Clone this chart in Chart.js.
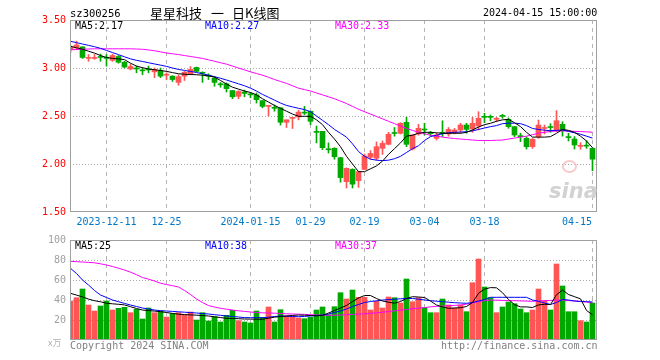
<!DOCTYPE html>
<html>
<head>
<meta charset="utf-8">
<script src="https://cdn.jsdelivr.net/npm/chart.js@4.4.0/dist/chart.umd.min.js"></script>
<style>
html,body{margin:0;padding:0;background:#fff;}
#wrap{position:relative;width:660px;height:360px;overflow:hidden;background:#fff;}
canvas{position:absolute;left:0;top:0;}
.t{position:absolute;font-family:"DejaVu Sans Mono",monospace;font-size:10px;line-height:10px;white-space:pre;}
.cj{font-family:'Noto Sans CJK SC';font-size:13px;line-height:15px;color:#000;top:5px;}
</style>
</head>
<body>
<div id="wrap">
<canvas id="vol" width="660" height="360"></canvas>
<canvas id="price" width="660" height="360"></canvas>
<span class="t" style="left:70px;top:8px;color:#000;font-size:10.5px">sz300256</span>
<span class="t cj" style="left:150px">星星科技</span>
<span class="t cj" style="left:211px">一</span>
<span class="t cj" style="left:232px">日K线图</span>
<span class="t" style="left:483px;top:8px;color:#000">2024-04-15 15:00:00</span>
<span class="t" id="pma5" style="left:75px;top:21px;color:#000"></span>
<span class="t" id="pma10" style="left:205px;top:21px;color:#0000ff"></span>
<span class="t" id="pma30" style="left:335px;top:21px;color:#ff00ff"></span>
<span class="t" id="vma5l" style="left:75px;top:241px;color:#000"></span>
<span class="t" id="vma10l" style="left:205px;top:241px;color:#0000ff"></span>
<span class="t" id="vma30l" style="left:335px;top:241px;color:#ff00ff"></span>
<span class="t" style="left:48px;top:338px;color:#b0b0b0;font-size:9px;font-family:'Noto Sans CJK SC'">x万</span>
<span class="t" style="left:70px;top:341px;color:#808080">Copyright 2024 SINA.COM</span>
<span class="t" style="left:441px;top:341px;color:#808080">http://finance.sina.com.cn</span>
<span class="t" style="left:562px;top:160px;width:11px;height:9px;border:2px solid #f6caca;border-radius:50%"></span>
<span class="t" style="left:549px;top:180px;color:#d2d2d2;font-family:'DejaVu Sans';font-weight:bold;font-style:italic;font-size:21px;line-height:22px">sina</span>
</div>
<script>
const dates = [
'2023-12-01','2023-12-04','2023-12-05','2023-12-06','2023-12-07','2023-12-08',
'2023-12-11','2023-12-12','2023-12-13','2023-12-14','2023-12-15',
'2023-12-18','2023-12-19','2023-12-20','2023-12-21','2023-12-22',
'2023-12-25','2023-12-26','2023-12-27','2023-12-28','2023-12-29',
'2024-01-02','2024-01-03','2024-01-04','2024-01-05',
'2024-01-08','2024-01-09','2024-01-10','2024-01-11','2024-01-12',
'2024-01-15','2024-01-16','2024-01-17','2024-01-18','2024-01-19',
'2024-01-22','2024-01-23','2024-01-24','2024-01-25','2024-01-26',
'2024-01-29','2024-01-30','2024-01-31','2024-02-01','2024-02-02',
'2024-02-05','2024-02-06','2024-02-07','2024-02-08',
'2024-02-19','2024-02-20','2024-02-21','2024-02-22','2024-02-23',
'2024-02-26','2024-02-27','2024-02-28','2024-02-29','2024-03-01',
'2024-03-04','2024-03-05','2024-03-06','2024-03-07','2024-03-08',
'2024-03-11','2024-03-12','2024-03-13','2024-03-14','2024-03-15',
'2024-03-18','2024-03-19','2024-03-20','2024-03-21','2024-03-22',
'2024-03-25','2024-03-26','2024-03-27','2024-03-28','2024-03-29',
'2024-04-01','2024-04-02','2024-04-03',
'2024-04-08','2024-04-09','2024-04-10','2024-04-11','2024-04-12',
'2024-04-15'];

const tickDates  = ['2023-12-11','2023-12-25','2024-01-15','2024-01-29','2024-02-19','2024-03-04','2024-03-18','2024-04-15'];
const tickLabels = ['2023-12-11','12-25','2024-01-15','01-29','02-19','03-04','03-18','04-15'];
const priceTicks = [1.5, 2.0, 2.5, 3.0, 3.5];
const volTicks = [20, 40, 60, 80, 100];

const open = [3.19,3.21,3.22,3.10,3.10,3.115,3.11,3.08,3.12,3.06,
2.99,3.00,2.975,2.985,2.96,2.97,2.925,2.915,2.85,2.915,
2.94,3.005,2.955,2.92,2.895,2.83,2.835,2.765,2.705,2.75,
2.725,2.72,2.66,2.60,2.59,2.585,2.435,2.475,2.49,2.535,
2.55,2.335,2.34,2.15,2.163,2.066,1.816,1.944,1.826,1.944,
2.07,2.06,2.163,2.205,2.32,2.32,2.434,2.156,2.313,2.36,
2.323,2.267,2.323,2.313,2.326,2.354,2.406,2.365,2.396,2.49,
2.49,2.465,2.50,2.465,2.389,2.288,2.267,2.18,2.285,2.37,
2.39,2.354,2.413,2.28,2.26,2.184,2.19,2.163];
const close = [3.22,3.24,3.11,3.11,3.105,3.11,3.10,3.13,3.06,3.01,
3.015,2.99,2.97,2.98,2.985,2.915,2.935,2.88,2.91,2.955,
2.985,2.965,2.945,2.915,2.85,2.825,2.785,2.70,2.755,2.735,
2.72,2.67,2.60,2.605,2.58,2.435,2.46,2.48,2.54,2.53,
2.445,2.33,2.17,2.148,2.076,1.858,1.955,1.79,1.92,2.083,
2.11,2.18,2.215,2.31,2.318,2.424,2.205,2.302,2.372,2.354,
2.316,2.302,2.32,2.36,2.354,2.406,2.36,2.424,2.476,2.486,
2.486,2.472,2.496,2.389,2.302,2.285,2.18,2.257,2.406,2.375,
2.38,2.451,2.354,2.275,2.198,2.19,2.186,2.05];
const high = [3.24,3.28,3.22,3.14,3.14,3.145,3.14,3.145,3.13,3.07,
3.04,3.02,3.00,3.02,3.00,3.00,2.95,2.92,2.93,2.965,
3.015,3.01,2.96,2.94,2.91,2.85,2.845,2.765,2.765,2.77,
2.745,2.74,2.66,2.605,2.615,2.585,2.46,2.48,2.56,2.60,
2.55,2.395,2.34,2.22,2.17,2.07,1.96,1.95,1.925,2.104,
2.14,2.23,2.24,2.33,2.38,2.43,2.486,2.302,2.413,2.424,
2.34,2.32,2.45,2.38,2.37,2.424,2.424,2.486,2.545,2.528,
2.51,2.486,2.517,2.48,2.39,2.32,2.285,2.267,2.458,2.406,
2.42,2.556,2.44,2.32,2.285,2.222,2.243,2.17];
const low = [3.16,3.19,3.10,3.07,3.09,3.07,3.02,3.07,3.05,3.00,
2.98,2.95,2.93,2.95,2.90,2.90,2.88,2.86,2.82,2.87,
2.93,2.96,2.85,2.88,2.81,2.80,2.75,2.68,2.68,2.70,
2.69,2.635,2.585,2.50,2.55,2.405,2.38,2.37,2.46,2.515,
2.41,2.22,2.15,2.115,2.05,1.81,1.75,1.75,1.757,1.94,
2.05,2.04,2.10,2.20,2.29,2.313,2.18,2.146,2.30,2.302,
2.29,2.25,2.285,2.29,2.313,2.326,2.32,2.33,2.354,2.43,
2.45,2.44,2.476,2.372,2.285,2.233,2.156,2.163,2.267,2.313,
2.33,2.337,2.29,2.24,2.156,2.153,2.163,1.93];

const ma5 = [3.226,3.21,3.195,3.175,3.155,3.13,3.11,3.10,3.095,3.087,
3.05,3.02,3.003,2.99,2.982,2.974,2.965,2.952,2.94,2.935,
2.932,2.93,2.925,2.918,2.905,2.87,2.833,2.80,2.78,2.76,
2.745,2.72,2.68,2.645,2.61,2.58,2.55,2.52,2.497,2.497,
2.497,2.46,2.41,2.33,2.26,2.18,2.08,2.00,1.92,1.92,
1.95,1.98,2.03,2.10,2.16,2.22,2.29,2.30,2.32,2.33,
2.33,2.325,2.32,2.32,2.32,2.32,2.33,2.355,2.385,2.41,
2.424,2.445,2.46,2.465,2.43,2.39,2.33,2.28,2.28,2.28,
2.285,2.32,2.36,2.35,2.33,2.29,2.24,2.17];
const ma10 = [3.278,3.264,3.25,3.236,3.222,3.205,3.183,3.161,3.139,3.117,
3.095,3.08,3.068,3.055,3.042,3.03,3.017,3.0,2.985,2.975,
2.964,2.953,2.94,2.925,2.91,2.893,2.875,2.855,2.835,2.815,
2.79,2.76,2.725,2.695,2.665,2.635,2.61,2.595,2.58,2.567,
2.545,2.50,2.455,2.41,2.36,2.32,2.28,2.21,2.13,2.08,
2.05,2.04,2.035,2.04,2.055,2.08,2.12,2.16,2.19,2.245,
2.285,2.30,2.315,2.325,2.33,2.333,2.336,2.345,2.36,2.375,
2.389,2.40,2.42,2.425,2.425,2.42,2.40,2.37,2.36,2.352,
2.347,2.35,2.354,2.34,2.325,2.31,2.29,2.27];
const ma30 = [3.19,3.192,3.195,3.198,3.20,3.20,3.20,3.20,3.20,3.20,
3.20,3.198,3.195,3.188,3.18,3.168,3.156,3.148,3.14,3.13,
3.12,3.11,3.10,3.085,3.07,3.055,3.04,3.02,3.00,2.98,
2.96,2.943,2.925,2.903,2.88,2.86,2.84,2.815,2.79,2.775,
2.76,2.74,2.72,2.70,2.68,2.655,2.63,2.60,2.57,2.545,
2.52,2.495,2.47,2.445,2.42,2.395,2.37,2.35,2.33,2.315,
2.30,2.29,2.28,2.272,2.265,2.26,2.255,2.25,2.245,2.245,
2.245,2.247,2.25,2.26,2.27,2.28,2.29,2.305,2.32,2.33,
2.34,2.343,2.345,2.343,2.34,2.338,2.335,2.33];

const volume = [39,42.3,51,35,29,34,39,30,31.7,32.7,
27.3,30.7,21,32,27.3,29,23,26.3,27.3,25.3,
28,20,27.3,19,23.3,18,24.7,29.7,19.3,18,
17,29,22.7,33,18,30.3,24,24,22,21.3,
22.7,30,33,25.3,33.3,47.3,41,50,42.7,42.7,
30,38.7,32,43,42.3,37,61,38.3,42.3,32.3,
27.3,27.3,41,35,32,35,28.3,57.3,81,53,
42.3,27.3,33,38,36.3,31,27.3,30,51,39,
30,76,54,28.3,28.3,19.3,18,37];
const vma5 = [46.7,44.9,43.1,40.9,39.3,38.2,36.8,36.2,35.7,35.1,
33.3,31.5,30.0,29.4,28.9,28.3,27.5,26.6,25.8,25.4,
25.1,24.8,24.5,24.0,23.2,22.4,21.7,21.5,21.3,21.0,
20.9,20.8,20.7,21.8,22.8,23.5,24.0,24.6,25.0,24.8,
24.5,24.2,24.5,27.0,29.5,32.0,34.5,38.5,42.0,44.5,
44.5,41.5,39.0,37.8,36.8,38.5,41.5,43.3,43.0,42.5,
39.0,35.0,33.0,31.7,32.0,32.3,33.5,37.5,46.7,50.9,
52.4,52.2,47.3,40.5,35.4,33.1,33.1,32.5,35.1,35.7,
35.5,45.2,50.0,45.5,43.3,41.2,29.6,25.2];
const vma10 = [71.7,66.5,60,55,49.5,45,42.5,40,38.3,36.6,
35,33.5,32,31,30,29.3,29,28.6,28.2,27.8,
27.4,27,26.5,26,25.3,24.7,24,23.5,23,22.4,
22.3,22.3,22.3,22.8,23.5,24,23.8,23.5,23.3,23.6,
24,24.5,25,26,27.5,29,31,33.5,35.5,37.5,
38.5,39.2,40,40.4,40.8,41.2,41.6,41.5,40.8,40,
39.3,38.8,38.3,37.8,37.3,37,36.7,37.5,39,40.5,
42.7,42.7,42.7,42.7,42.7,42.7,42.7,40,38.7,37,
35.5,37.5,40.5,40,39,38.5,38.3,38];
const vma30 = [78.7,78.3,78,77.6,77.2,76.2,75,73.5,71.8,70,
67.8,65.3,62.5,60.8,59,56.8,55.5,54.3,53,49.5,
45.5,41,37.5,34.5,33,31.7,30.8,30,29.2,28.6,
28,27.5,27.2,27,26.8,26.5,26.2,26,25.8,25.6,
25.3,25,24.8,24.7,24.8,25,25.3,25.6,25.9,26.2,
26.7,27.2,27.8,28.4,29.2,29.8,30.5,31.2,31.8,32.4,
33.2,33.6,34,34.3,34.6,35,35.8,37,38.3,39.3,
40,39.8,39.6,39.4,39.3,39.1,38.9,38.7,39,39.3,
39.6,39.8,40,39.5,39,38.5,38,37.2];

const UP = '#ff5555', DOWN = '#00a800';
const N = dates.length;
const last = N - 1;
const tickIdx = tickDates.map(d => dates.indexOf(d));
const candleColors = open.map((o, i) => close[i] >= o ? UP : DOWN);

document.getElementById('pma5').textContent = 'MA5:' + ma5[last].toFixed(2);
document.getElementById('pma10').textContent = 'MA10:' + ma10[last].toFixed(2);
document.getElementById('pma30').textContent = 'MA30:' + ma30[last].toFixed(2);
document.getElementById('vma5l').textContent = 'MA5:' + Math.round(vma5[last]);
document.getElementById('vma10l').textContent = 'MA10:' + Math.round(vma10[last]);
document.getElementById('vma30l').textContent = 'MA30:' + Math.round(vma30[last]);

Chart.defaults.font.family = '"DejaVu Sans Mono", monospace';
Chart.defaults.font.size = 10;

const PX_PER = 6;           // one trading day per 6 px
const X_MIN = -0.5 / PX_PER;
const X_MAX = X_MIN + 527 / PX_PER;

const framePlugin = {
  id: 'frame',
  afterDraw(c) {
    const {ctx, chartArea: a} = c;
    ctx.save();
    ctx.strokeStyle = '#a0a0a0';
    ctx.lineWidth = 1;
    ctx.strokeRect(a.left + 0.5, a.top + 0.5, a.right - a.left - 1, a.bottom - a.top - 1);
    ctx.restore();
  }
};
const xLabelPlugin = {
  id: 'xlabels',
  afterDraw(c) {
    const s = c.scales.x, ctx = c.ctx, a = c.chartArea;
    ctx.save();
    ctx.font = '10px "DejaVu Sans Mono"';
    ctx.fillStyle = '#0078c8';
    ctx.textBaseline = 'middle';
    tickIdx.forEach((v, k) => {
      const t = tickLabels[k];
      const w = ctx.measureText(t).width;
      let x = s.getPixelForValue(v) - w / 2;
      if (x + w > a.right - 5) x = a.right - 5 - w;
      ctx.fillText(t, x, a.bottom + 10);
    });
    ctx.restore();
  }
};

function xScale() {
  return {
    type: 'linear', min: X_MIN, max: X_MAX, offset: false,
    afterFit: s => { s.height = 0; },
    afterBuildTicks: s => { s.ticks = tickIdx.map(v => ({value: v})); },
    ticks: {display: false},
    grid: {color: '#b4b4b4', lineWidth: 1, drawTicks: false, offset: false},
    border: {display: false, dash: [4, 4]}
  };
}
function line(label, arr, color) {
  return {type: 'line', label, data: arr.map((v, i) => ({x: i, y: v})),
    borderColor: color, borderWidth: 1, pointRadius: 0, tension: 0, order: 0, fill: false};
}

new Chart(document.getElementById('price'), {
  type: 'bar',
  data: {
    datasets: [
      line('MA5', ma5, '#000000'),
      line('MA10', ma10, '#0000ff'),
      line('MA30', ma30, '#ff00ff'),
      {type: 'bar', label: 'body', data: open.map((o, i) => ({x: i, y: [o, close[i]]})),
        backgroundColor: candleColors, borderWidth: 0, barThickness: 5, grouped: false, minBarLength: 1, order: 1},
      {type: 'bar', label: 'wick', data: low.map((l, i) => ({x: i, y: [l, high[i]]})),
        backgroundColor: candleColors, borderWidth: 0, barThickness: 1, grouped: false, order: 2}
    ]
  },
  options: {
    responsive: false, animation: false, events: [],
    layout: {padding: {left: 0, right: 63, top: 20, bottom: 148}},
    plugins: {legend: {display: false}, tooltip: {enabled: false}},
    scales: {
      x: xScale(),
      y: {
        min: 1.5, max: 3.5,
        afterFit: s => { s.width = 70; },
        afterBuildTicks: s => { s.ticks = priceTicks.map(v => ({value: v})); },
        ticks: {color: '#ff0000', padding: 4, callback: v => Number(v).toFixed(2)},
        grid: {drawTicks: false, color: c => (c.tick && (c.tick.value === 1.5 || c.tick.value === 3.5)) ? 'rgba(0,0,0,0)' : '#a8a8a8'},
        border: {display: false, dash: [1, 2]}
      }
    }
  },
  plugins: [framePlugin, xLabelPlugin]
});

const volColors = candleColors;
new Chart(document.getElementById('vol'), {
  type: 'bar',
  data: {
    datasets: [
      line('MA5', vma5, '#000000'),
      line('MA10', vma10, '#0000ff'),
      line('MA30', vma30, '#ff00ff'),
      {type: 'bar', label: 'vol', data: volume.map((v, i) => ({x: i, y: v})),
        backgroundColor: volColors, borderWidth: 0, barThickness: 5, grouped: false, order: 1}
    ]
  },
  options: {
    responsive: false, animation: false, events: [],
    layout: {padding: {left: 0, right: 63, top: 240, bottom: 20}},
    plugins: {legend: {display: false}, tooltip: {enabled: false}},
    scales: {
      x: xScale(),
      y: {
        min: 0, max: 100,
        afterFit: s => { s.width = 70; },
        afterBuildTicks: s => { s.ticks = volTicks.map(v => ({value: v})); },
        ticks: {color: '#a0a0a0', padding: 4},
        grid: {drawTicks: false, color: c => (c.tick && c.tick.value === 100) ? 'rgba(0,0,0,0)' : '#a8a8a8'},
        border: {display: false, dash: [1, 2]}
      }
    }
  },
  plugins: [framePlugin]
});
</script>
</body>
</html>
